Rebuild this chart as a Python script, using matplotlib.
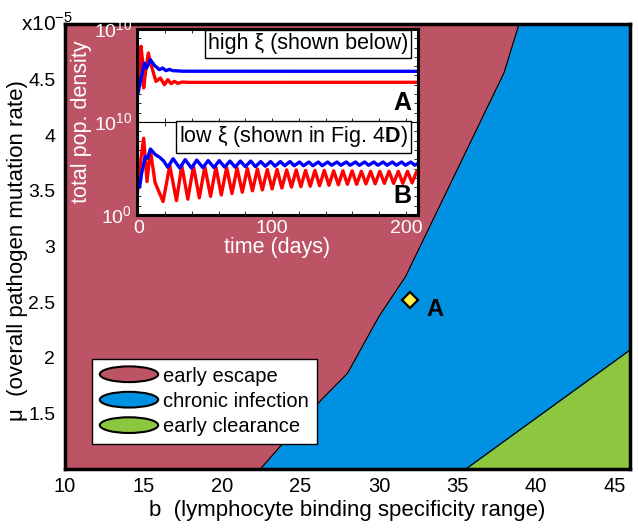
import numpy as np
import matplotlib
matplotlib.use("Agg")
import matplotlib.pyplot as plt
from matplotlib.patches import Ellipse, Patch
from matplotlib.legend_handler import HandlerPatch

plt.rcParams['font.family'] = ['Liberation Sans', 'DejaVu Sans']
plt.rcParams['mathtext.fontset'] = 'custom'
plt.rcParams['mathtext.rm'] = 'Liberation Sans'
plt.rcParams['mathtext.bf'] = 'Liberation Sans:bold'

# ---------------- data: phase diagram ----------------
# escape / chronic boundary (b, mu in units of 1e-5)
esc_b = [22.45, 26.3, 28.0, 30.0, 31.7, 37.97, 38.93]
esc_mu = [1.0, 1.617, 1.86, 2.37, 2.73, 4.56, 5.0]
# chronic / clearance boundary
clr_b = [35.54, 46.0]
clr_mu = [1.0, 2.07]
point_b = [32.0]
point_mu = [2.52]
xticks_main = [10, 15, 20, 25, 30, 35, 40, 45]
yticks_main = [1.5, 2, 2.5, 3, 3.5, 4, 4.5]
legend_labels = ["early escape", "chronic infection", "early clearance"]

# ---------------- data: inset time series (log10 density) ----------------
tA_red = [-1.5, 0.5, 2.0, 3.0, 4.0, 5.5, 7.5, 9.0, 13.2, 16.5, 19.5, 22.0, 24.5, 27.0, 29.5, 33.0, 38.0, 209.0]
yA_red = [1.5, 5.0, 8.14, 6.8, 3.66, 5.5, 7.42, 6.4, 4.37, 4.73, 4.01, 4.55, 4.12, 4.37, 4.16, 4.3, 4.26, 4.27]
tA_blue = [-1.5, -0.5, 1.5, 4.5, 6.2, 9.0, 12.0, 15.7, 18.2, 20.7, 23.2, 25.7, 29.0, 33.0, 209.0]
yA_blue = [2.94, 2.95, 4.3, 6.34, 5.8, 6.7, 6.1, 5.63, 5.8, 5.52, 5.66, 5.52, 5.5, 5.46, 5.45]

tB_red = [-1.5, 1.0, 4.0, 6.5, 9.0, 12.5, 18.5, 23.5, 28.5, 32.5, 37.0, 41.2, 45.6, 49.7,
          54.0, 58.0, 62.0, 66.0, 70.0, 73.8, 77.7, 81.5, 85.3, 89.0, 92.7, 96.4, 100.0,
          103.7, 107.3, 110.9, 114.5, 118.0, 121.5, 125.0, 128.5, 132.0, 135.5, 139.0,
          142.5, 146.0, 149.5, 152.9, 156.3, 159.8, 163.2, 166.7, 170.1, 173.6, 177.0,
          180.5, 183.9, 187.4, 190.8, 194.3, 197.7, 201.2, 204.6, 208.1, 209.0]
yB_red = [1.2, 5.0, 8.25, 3.6, 7.0, 3.5, 1.45, 5.3, 1.55, 5.3, 1.7, 5.25, 1.85, 5.2,
          2.0, 5.15, 2.15, 5.1, 2.3, 5.05, 2.45, 5.0, 2.6, 4.95, 2.7, 4.9, 2.8,
          4.9, 2.9, 4.85, 3.0, 4.85, 3.05, 4.8, 3.1, 4.8, 3.15, 4.8,
          3.2, 4.75, 3.25, 4.75, 3.3, 4.75, 3.3, 4.7, 3.35, 4.7, 3.35,
          4.7, 3.4, 4.7, 3.4, 4.7, 3.4, 4.7, 3.45, 4.7, 4.5]
tB_blue = [-1.5, 1.0, 2.5, 5.2, 7.0, 9.0, 12.7, 16.0, 19.0, 22.0, 26.0, 31.0, 35.0, 39.7, 43.7,
           48.2, 52.2, 56.5, 60.5, 64.5, 68.5, 72.3, 76.3, 80.0, 84.0, 87.5, 91.5, 94.9, 98.9,
           102.2, 106.2, 109.4, 113.4, 116.5, 120.5, 123.5, 127.5, 130.5, 134.5, 137.5, 141.5,
           144.5, 148.5, 151.4, 155.4, 158.3, 162.3, 165.2, 169.2, 172.1, 176.1, 179.0, 183.0,
           185.9, 189.9, 192.8, 196.8, 199.7, 203.7, 206.6, 209.0]
yB_blue = [2.9, 3.0, 4.5, 6.3, 6.1, 7.1, 6.5, 6.2, 5.8, 5.13, 6.05, 5.05, 5.95, 5.05, 5.9,
           5.1, 5.85, 5.1, 5.85, 5.15, 5.8, 5.15, 5.8, 5.2, 5.8, 5.2, 5.75, 5.25, 5.75,
           5.25, 5.75, 5.3, 5.75, 5.3, 5.7, 5.3, 5.7, 5.3, 5.7, 5.3, 5.7,
           5.35, 5.7, 5.35, 5.7, 5.35, 5.7, 5.35, 5.7, 5.35, 5.7, 5.35, 5.7,
           5.35, 5.7, 5.35, 5.7, 5.35, 5.7, 5.35, 5.55]
inset_xticks = [0, 100, 200]

C_RED = "#BD5465"
C_BLUE = "#0091E2"
C_GREEN = "#8DC63F"
C_YEL = "#FFEE44"

fig = plt.figure(figsize=(6.38, 5.30), dpi=100)
ax = fig.add_axes([0.1019, 0.1151, 0.8856, 0.8396])
ax.set_xlim(10, 46)
ax.set_ylim(1, 5)

ax.fill_betweenx(esc_mu, 10, esc_b, color=C_RED, lw=0)
ax.fill_betweenx(esc_mu, esc_b, 46, color=C_BLUE, lw=0)
ax.fill_between(clr_b, 1, clr_mu, color=C_GREEN, lw=0)
ax.plot(esc_b, esc_mu, color='black', lw=0.9)
ax.plot(clr_b, clr_mu, color='black', lw=0.9)
ax.plot(point_b, point_mu, marker='D', ms=8, mfc=C_YEL, mec='black', mew=1.6, ls='none')
ax.text(point_b[0] + 1.55, point_mu[0] - 0.09, "A", fontsize=17, fontweight='bold',
        ha='center', va='center')

ax.set_xticks(xticks_main)
ax.set_yticks(yticks_main)
ax.set_yticklabels([("%g" % v) for v in yticks_main])
ax.tick_params(length=0, labelsize=14.5, pad=6)
ax.tick_params(axis='y', labelsize=14, pad=7)
for s in ax.spines.values():
    s.set_linewidth(2.5)
ax.set_xlabel("b  (lymphocyte binding specificity range)", fontsize=16, labelpad=3)
ax.set_ylabel("\u03bc  (overall pathogen mutation rate)", fontsize=16)
ax.yaxis.set_label_coords(-0.066, 0.49)
fig.text(0.033, 0.955, "x10$^{-5}$", fontsize=15, ha='left', va='center')


class HandlerEllipse(HandlerPatch):
    def create_artists(self, legend, orig_handle, xdescent, ydescent, width, height,
                       fontsize, trans):
        center = 0.5 * width - 0.5 * xdescent, 0.5 * height - 0.5 * ydescent
        p = Ellipse(xy=center, width=width + xdescent, height=height + ydescent)
        self.update_prop(p, orig_handle, legend)
        p.set_transform(trans)
        return [p]


handles = [Patch(facecolor=c, edgecolor='black', lw=1.5) for c in (C_RED, C_BLUE, C_GREEN)]
leg = ax.legend(handles, legend_labels, handler_map={Patch: HandlerEllipse()},
                loc='lower left', bbox_to_anchor=(0.048, 0.056), fontsize=14.5,
                handlelength=2.9, handleheight=0.78, handletextpad=0.25,
                labelspacing=0.32, borderpad=0.38, borderaxespad=0,
                fancybox=False, framealpha=1, edgecolor='black')
leg.get_frame().set_linewidth(1.0)

# ---------------- insets ----------------
axA = fig.add_axes([0.2147, 0.7698, 0.4404, 0.1755])
axB = fig.add_axes([0.2147, 0.5943, 0.4404, 0.1755])
for a, tr, yr, tb, yb, lbl, note in (
        (axA, tA_red, yA_red, tA_blue, yA_blue, "A", "high \u03be (shown below)"),
        (axB, tB_red, yB_red, tB_blue, yB_blue, "B", "low \u03be (shown in Fig. 4$\\mathbf{D}$)")):
    a.set_facecolor('white')
    a.plot(tr, np.power(10.0, yr), color='#FF0000', lw=2.4, solid_joinstyle='round')
    a.plot(tb, np.power(10.0, yb), color='#0000FF', lw=2.4, solid_joinstyle='round')
    a.set_yscale('log')
    a.set_ylim(1, 1e10)
    a.set_xlim(-1, 209)
    a.set_yticks([10.0 ** k for k in range(11)])
    a.yaxis.set_minor_locator(matplotlib.ticker.NullLocator())
    a.set_xticks(inset_xticks)
    a.set_xticks([20, 40, 60, 80, 120, 140, 160, 180], minor=True)
    a.tick_params(which='both', direction='in', top=True, right=True, length=3,
                  width=0.6, colors='black', labelcolor='white', labelsize=14)
    for s in a.spines.values():
        s.set_linewidth(2.2)
    a.text(0.975, 0.08, lbl, transform=a.transAxes, fontsize=18, fontweight='bold',
           ha='right', va='bottom')
    a.text(0.965, 0.84, note, transform=a.transAxes, fontsize=15.5, ha='right', va='center',
           bbox=dict(boxstyle='square,pad=0.15', fc='white', ec='black', lw=1))

axA.spines['bottom'].set_linewidth(0.8)
axB.spines['top'].set_linewidth(0.8)
axA.set_xticklabels([])
axA.set_yticklabels(["$10^{10}$" if k == 10 else "" for k in range(11)])
axB.set_yticklabels(["$10^{10}$" if k == 10 else ("$10^{0}$" if k == 0 else "") for k in range(11)])
axB.set_xticklabels([str(v) for v in inset_xticks])
axB.set_xlabel("time (days)", color='white', fontsize=15.5, labelpad=0)
fig.text(0.127, 0.77, "total pop. density", rotation=90, color='white', fontsize=15.5,
         ha='center', va='center')

fig.savefig("out.png", dpi=100)
